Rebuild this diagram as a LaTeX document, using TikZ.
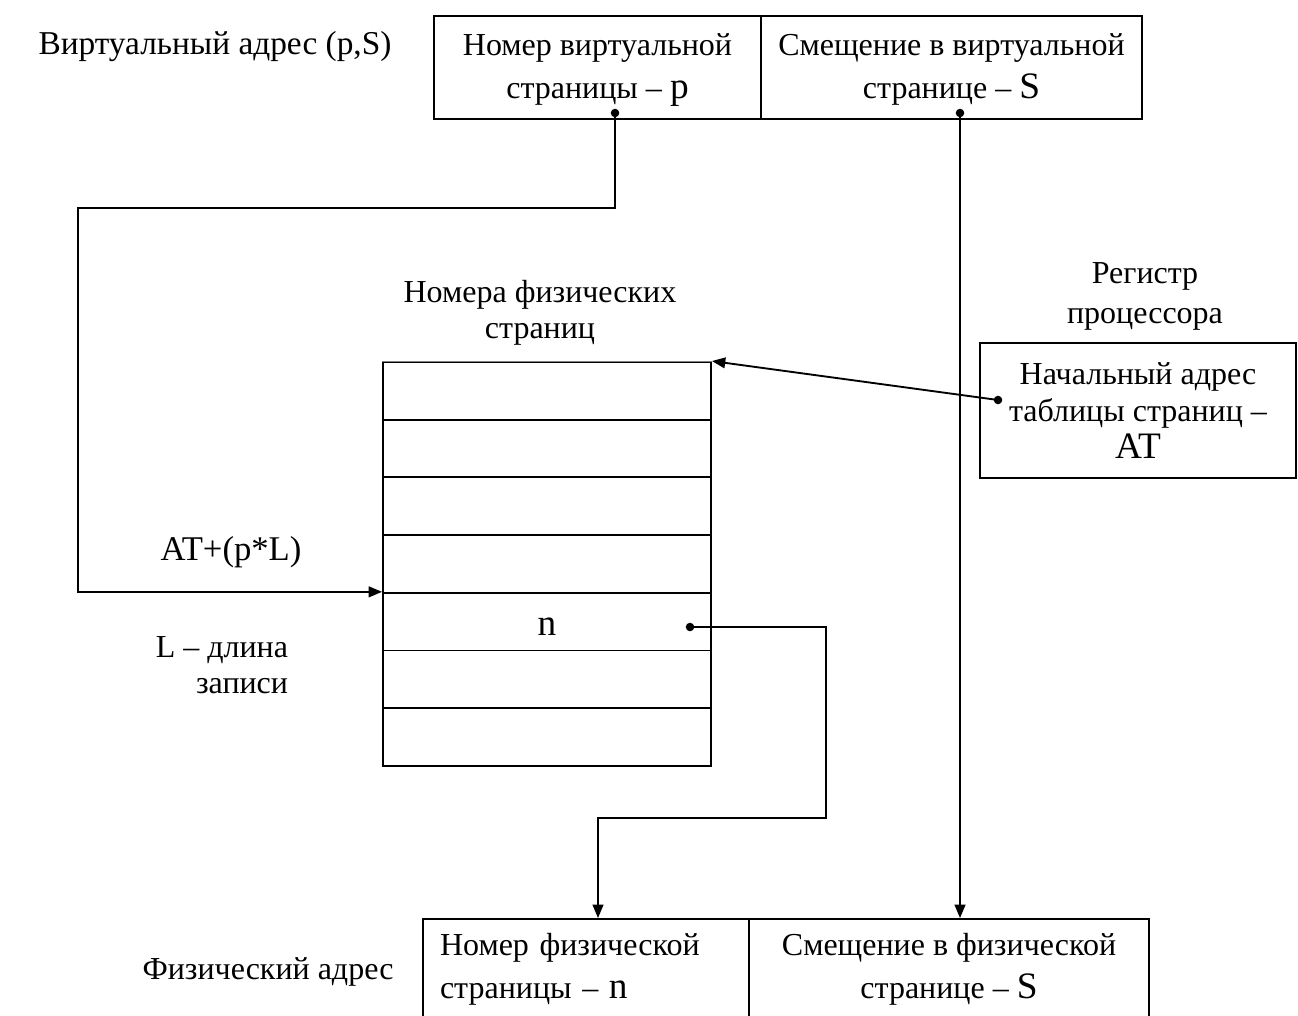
\documentclass[tikz,border=0pt]{standalone}
\usepackage{fontspec}
\setmainfont{Liberation Serif}
\usetikzlibrary{arrows.meta, positioning}

\newcommand{\txtsize}{\fontsize{24}{32.5}\selectfont}
\newcommand{\bigsym}[1]{{\fontsize{28}{28}\selectfont #1}}

\begin{document}
\begin{tikzpicture}[
    x=0.75pt, y=-0.75pt,
    line width=1.4pt,
    >={Triangle[length=10pt, width=8pt]},
    cell/.style={
        draw, inner sep=0pt, align=center, font=\txtsize
    },
    label/.style={
        inner sep=0pt, align=center, font=\fontsize{24}{27}\selectfont
    }
]

\useasboundingbox (0,0) rectangle (1298,1016);

% Virtual address
\node[label, font=\fontsize{25}{28}\selectfont] (vlabel) at (215,47) {Виртуальный адрес (p,S)};
\node[cell, minimum width=245.25pt, minimum height=77.25pt, text depth=2pt] (vpage) at (597.5,67.5)
    {Номер виртуальной\\страницы – \bigsym{p}};
\node[cell, minimum width=285.75pt, minimum height=77.25pt, text depth=2pt] (voffs) at (951.5,67.5)
    {Смещение в виртуальной\\странице – \bigsym{S}};

% Page table
\node[label] (tabtitle) at (540,313) {Номера физических\\страниц};
\foreach \i in {1,...,7} {
    \node[cell, minimum width=246pt, minimum height=43.3pt] (row\i)
        at (547, {362+57.7*\i-28.85}) {};
}
\draw[white, line width=1pt] (row1.north west) -- (row1.north east);
\draw[gray, line width=0.5pt] (row1.north west) -- (row1.north east);
\node[label] (nval) at ([yshift=-4pt]row5) {\bigsym{n}};

\node[label, font=\fontsize{26}{28}\selectfont] (atlabel) at (231,552) {AT+(p*L)};
\node[label, anchor=east, align=right] (lenlabel) at (289,665)
    {L – длина\\записи};

% Processor register
\node[label, font=\fontsize{24}{30}\selectfont] (reglabel) at (1145,296) {Регистр\\процессора};
\node[cell, minimum width=237pt, minimum height=101.25pt, font=\fontsize{24}{27.5}\selectfont] (reg) at (1138,410.5)
    {Начальный адрес\\таблицы страниц –\\\bigsym{AT}};

% Physical address
\node[label] (flabel) at (268,972) {Физический адрес};
\node[cell, text width=219pt, inner xsep=13pt, minimum height=75pt, align=left] (pnum) at (586,969)
    {Номер физической\\страницы – \bigsym{n}};
\node[cell, minimum width=300pt, minimum height=75pt] (poffs) at (949,969)
    {Смещение в физической\\странице – \bigsym{S}};

% Connectors
\coordinate (pdot) at (615,113);
\coordinate (sdot) at (960,113);
\coordinate (regdot) at (998,400);
\coordinate (ndot) at (690,627);

\draw[->] (pdot) |- ++(-537,95) |- (row5.north west);
\draw[->] (sdot) -- (sdot |- poffs.north);
\draw[->] (regdot) -- (row1.north east);
\draw[->] (ndot) -| (826,818) -| ([xshift=9pt]pnum.north);

\foreach \p in {pdot, sdot, regdot, ndot}
    \fill (\p) circle (3.2pt);

\end{tikzpicture}
\end{document}
